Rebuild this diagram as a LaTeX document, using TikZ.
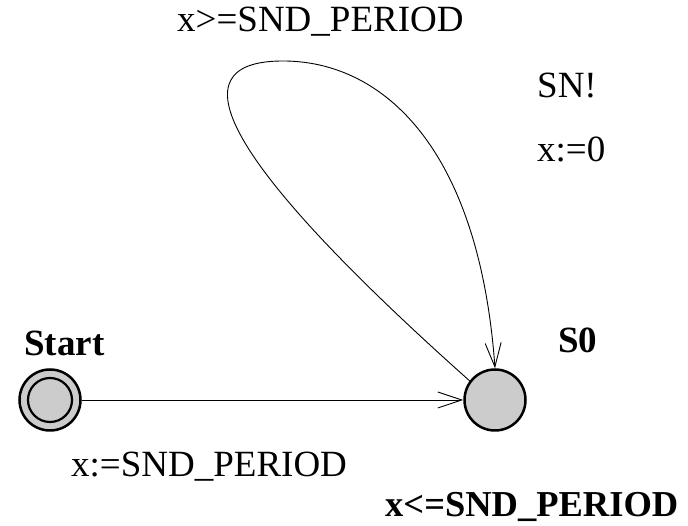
\documentclass[tikz,border=0pt]{standalone}
\usepackage{fontspec}
\setmainfont{Liberation Serif}
\usepackage{tikz}
\usetikzlibrary{arrows.meta}

\tikzset{
  loc/.style={circle,draw,line width=2.5pt,fill=gray!40,minimum size=61pt,inner sep=0pt},
  lbl/.style={anchor=base west,inner sep=0pt,font=\fontsize{37}{44}\selectfont},
  trans/.style={line width=0.9pt,-{Straight Barb[length=24pt,width=16pt,line width=0.9pt]}}
}

\begin{document}
\begin{tikzpicture}[x=1pt,y=1pt]
\useasboundingbox (0,0) rectangle (688,526);
% locations
\node[loc] (start) at (50,126) {};
\draw[line width=2.2pt] (start.center) circle (22);
\node[loc] (s0) at (495,126) {};
\node[lbl,font=\fontsize{37}{44}\selectfont\bfseries] (startname) at (24,170) {Start};
\node[lbl,font=\fontsize{37}{44}\selectfont\bfseries] (s0name) at (558,173) {S0};
\node[lbl,font=\fontsize{36.5}{44}\selectfont\bfseries] (inv) at (385,9) {x<=SND\_PERIOD};
% transitions
\draw[trans] (start) -- (s0);
\coordinate (nail) at (283,465);
\draw[trans] (s0.143) .. controls (222,366) and (173,465) .. (nail)
  .. controls (383,465) and (479,378) .. (s0.north);
\node[lbl] (guard) at (177,494) {x>=SND\_PERIOD};
\node[lbl] (sync) at (537,428) {SN!};
\node[lbl] (upd) at (537,364) {x:=0};
\node[lbl] (init) at (71,49) {x:=SND\_PERIOD};
\end{tikzpicture}
\end{document}
